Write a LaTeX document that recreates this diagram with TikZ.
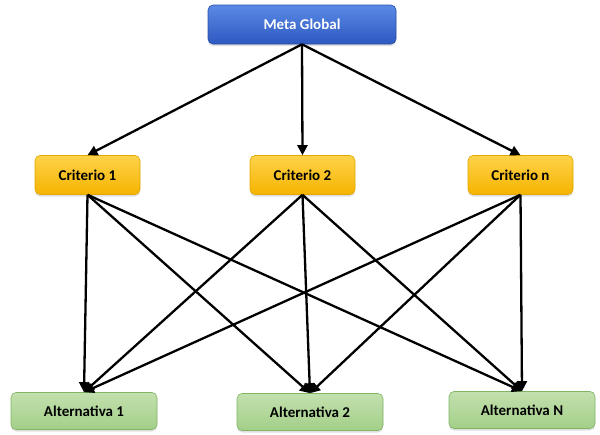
\documentclass[tikz,border=0pt]{standalone}
\usepackage{fontspec}
\setmainfont{Carlito}
\usetikzlibrary{arrows.meta,shadows}
\definecolor{bluetop}{HTML}{5A8AE6}
\definecolor{bluebot}{HTML}{2E58C0}
\definecolor{blueedge}{HTML}{2A4FA8}
\definecolor{goldtop}{HTML}{FFD24A}
\definecolor{goldbot}{HTML}{F5B400}
\definecolor{goldedge}{HTML}{E0A800}
\definecolor{greentop}{HTML}{C2E0AE}
\definecolor{greenbot}{HTML}{A3CF88}
\definecolor{greenedge}{HTML}{7FB563}
\tikzset{
  box/.style={rounded corners=5pt, minimum height=39pt, inner sep=2pt,
    font=\bfseries\fontsize{15}{17}\selectfont,
    drop shadow={shadow xshift=0pt, shadow yshift=-2pt, opacity=0.25}},
  metabox/.style={box, draw=blueedge, line width=0.6pt, top color=bluetop, bottom color=bluebot, text=white, minimum width=188pt},
  critbox/.style={box, draw=goldedge, line width=0.6pt, top color=goldtop, bottom color=goldbot, text=black, minimum width=105pt},
  altbox/.style={box, draw=greenedge, line width=0.6pt, top color=greentop, bottom color=greenbot, text=black, minimum width=146pt, minimum height=37pt},
  conn/.style={line width=2.3pt, -{Triangle[length=10pt,width=10pt]}}
}
\begin{document}
\begin{tikzpicture}[x=1pt,y=-1pt]
\useasboundingbox (0,0) rectangle (600,434);
\node[metabox] (m) at (302,24.5) {Meta Global};
\node[critbox] (c1) at (87.5,175) {Criterio 1};
\node[critbox] (c2) at (302.5,175) {Criterio 2};
\node[critbox] (cn) at (520.5,175) {Criterio n};
\node[altbox] (a1) at (84,411) {Alternativa 1};
\node[altbox] (a2) at (310,412) {Alternativa 2};
\node[altbox] (aN) at (522,410) {Alternativa N};
\foreach \c in {c1,c2,cn} \draw[conn] (m.south) -- (\c.north);
\foreach \c in {c1,c2,cn} \foreach \a in {a1,a2,aN} \draw[conn] (\c.south) -- (\a.north);
\end{tikzpicture}
\end{document}
